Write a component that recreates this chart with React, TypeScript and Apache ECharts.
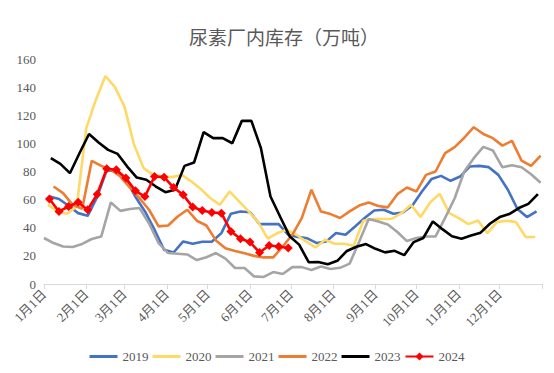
import React, { useEffect, useRef } from "react";
import * as echarts from "echarts";

// Weekly plant inventory of urea (10k tonnes)
const seriesNames = ["2019", "2020", "2021", "2022", "2023", "2024"];
// first observation day (days after Jan 1) of each year's weekly series
const startDays = [4, 3, 0, 7, 5, 4];

const v2019 = [62.2, 60.4, 55.6, 50.4, 48.5, 62, 81, 80, 75, 62, 51.6, 38.6, 24.4, 22.4, 30.3, 28.6, 30, 30, 36.2, 50, 51.6, 51, 42.6, 42.6, 42.6, 35, 33.5, 32.5, 29.1, 30.3, 36.2, 35, 40.9, 46.9, 52.3, 52.8, 50, 50.9, 55.8, 65.8, 74.6, 76.9, 73.4, 76.4, 83.5, 84, 83.1, 77.6, 67, 53.3, 47.6, 51.6];
const v2020 = [56.3, 51.6, 49.9, 55.1, 110.8, 130.9, 147.9, 140, 126.1, 99, 82.4, 77.6, 76.4, 76, 77.6, 72.9, 67.5, 61, 56.3, 65.8, 58.7, 51.6, 44, 32.2, 36.2, 38.6, 35, 30.3, 26, 31.5, 28.6, 28.6, 27.2, 45, 46.2, 46.2, 46.4, 50.4, 56.3, 47.6, 58, 64.1, 50.4, 46.9, 42.6, 45.2, 36.2, 44, 45, 44, 33.4, 33.4];
const v2021 = [32.7, 29.1, 26.7, 26.3, 28.5, 32, 33.8, 58, 52, 53.3, 54, 43, 29, 22, 21.5, 21, 17, 19, 22, 18, 11.4, 11.4, 5.4, 5, 8.5, 7.1, 12, 12, 10, 12.5, 10.7, 11.5, 14.5, 30, 46.2, 44.5, 42.3, 37, 30.5, 32.7, 33.8, 33.8, 47, 61, 80, 89.5, 97.5, 95, 83, 84.5, 83, 78, 72];
const v2022 = [69.3, 64.6, 56.3, 53.5, 87.6, 84, 81.2, 76.4, 68.5, 61, 52.8, 41, 41.6, 48, 52.8, 45, 41.6, 31, 25.5, 23.5, 21.8, 20, 18.9, 18.9, 26.7, 35, 47, 67, 51.6, 49.7, 46.9, 51.6, 55.8, 58, 55.5, 54.5, 63.9, 68.6, 65.8, 77.6, 80, 93, 97.3, 104, 111.5, 106.7, 103.7, 98.4, 101.8, 87.8, 84, 91.3];
const v2023 = [89.5, 85.4, 78.8, 93, 106.7, 100.6, 95.4, 92.5, 83.5, 75.7, 74.1, 69.3, 65.3, 67, 84, 86.4, 108, 103.7, 103.7, 100.1, 116, 116, 96.6, 62.2, 48, 34, 28, 15.5, 15.6, 14, 16.5, 23.5, 26.5, 28.4, 25, 22.5, 23.6, 20.5, 29.8, 32.7, 44.5, 39, 34, 32.2, 34.5, 36.5, 43, 47.6, 49.7, 54, 57, 63.9];
const v2024 = [60.4, 51.6, 55.1, 58.2, 52.8, 63.9, 81.9, 81.2, 75.3, 66.3, 62.2, 76.4, 76, 68.6, 63.4, 54.7, 52.3, 50.9, 50.4, 37.4, 32.2, 29.8, 22.4, 27.4, 26.7, 25.6];
const allValues = [v2019, v2020, v2021, v2022, v2023, v2024];

// month starts (day of year) for ticks and labels
const monthStartDays = [0, 31, 59, 90, 120, 151, 181, 212, 243, 273, 304, 334];
const monthLabels = ["1月1日", "2月1日", "3月1日", "4月1日", "5月1日", "6月1日", "7月1日", "8月1日", "9月1日", "10月1日", "11月1日", "12月1日"];
const yearEnd = 365;

const colors = ["#4472C4", "#FFD966", "#A5A5A5", "#ED7D31", "#000000", "#FF0000"];

export default function App() {
  const ref = useRef<HTMLDivElement>(null);
  useEffect(() => {
    if (!ref.current) return;
    const chart = echarts.init(ref.current, undefined, { renderer: "svg" });
    const serif = "'Liberation Serif', 'Noto Sans CJK SC', serif";
    const series = seriesNames.map((name, i) => {
      const is2024 = name === "2024";
      return {
        name,
        type: "line",
        data: allValues[i].map((v, k) => [startDays[i] + 7 * k, v]),
        symbol: is2024 ? "diamond" : "none",
        symbolSize: is2024 ? 9 : 0,
        showSymbol: is2024,
        lineStyle: { width: 2.6, color: colors[i] },
        itemStyle: { color: colors[i] },
        emphasis: { disabled: true },
        z: 2 + i,
      };
    });
    chart.setOption({
      animation: false,
      backgroundColor: "#ffffff",
      title: {
        text: "尿素厂内库存（万吨）",
        left: 279,
        textAlign: "center",
        top: 22,
        textStyle: {
          fontFamily: "'Noto Sans CJK SC', sans-serif",
          fontWeight: "normal",
          fontSize: 19,
          color: "#595959",
        },
      },
      grid: { left: 44, right: 12, top: 59, bottom: 89, containLabel: false },
      xAxis: {
        type: "value",
        min: 0,
        max: yearEnd,
        splitLine: { show: false },
        axisLine: { show: true, lineStyle: { color: "#D9D9D9", width: 1 } },
        axisTick: {
          show: true,
          length: 5,
          lineStyle: { color: "#D9D9D9" },
          customValues: [...monthStartDays, yearEnd],
        },
        axisLabel: {
          customValues: monthStartDays,
          rotate: 45,
          margin: 8,
          fontSize: 13,
          fontFamily: serif,
          color: "#595959",
          formatter: (v: number) => {
            const idx = monthStartDays.indexOf(Math.round(v));
            return idx >= 0 ? monthLabels[idx] : "";
          },
        },
      },
      yAxis: {
        type: "value",
        min: 0,
        max: 160,
        interval: 20,
        splitLine: { show: false },
        axisLine: { show: false },
        axisTick: { show: false },
        axisLabel: { fontSize: 13, fontFamily: serif, color: "#595959", margin: 8 },
      },
      legend: {
        top: 345,
        left: "center",
        itemWidth: 28,
        itemHeight: 10,
        itemGap: 4,
        textStyle: { fontSize: 13, fontFamily: serif, color: "#595959" },
        data: seriesNames.map((n) =>
          n === "2024" ? { name: n } : { name: n, icon: "path://M0,0H28V3H0Z" }
        ),
      },
      series,
    });
    return () => chart.dispose();
  }, []);
  return (
    <div
      ref={ref}
      style={{ position: "fixed", left: 0, top: 0, width: 554, height: 373, background: "#fff" }}
    />
  );
}
